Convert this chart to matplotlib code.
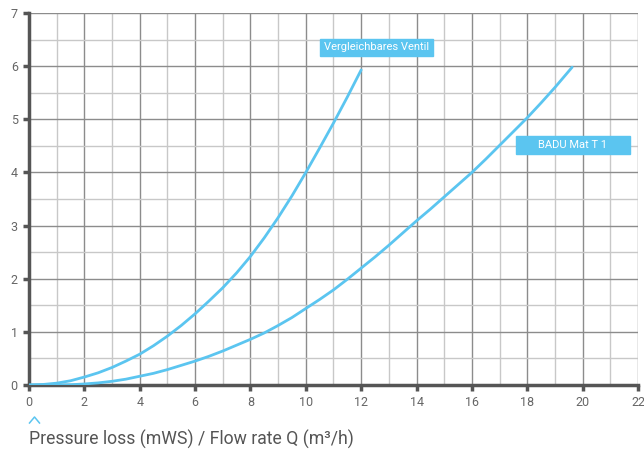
import matplotlib
matplotlib.use('Agg')
import matplotlib.pyplot as plt
from matplotlib.patches import Rectangle
from matplotlib.lines import Line2D
from matplotlib.ticker import MultipleLocator

# curves
q_ventil = [0, 0.5, 1, 1.5, 2, 2.5, 3, 3.5, 4, 4.5, 5, 5.5, 6, 6.5, 7, 7.5, 8,
            8.5, 9, 9.5, 10, 10.5, 11, 11.5, 12]
p_ventil = [0, 0.01, 0.035, 0.08, 0.15, 0.23, 0.33, 0.45, 0.58, 0.74, 0.92, 1.12,
            1.34, 1.58, 1.83, 2.11, 2.42, 2.77, 3.15, 3.56, 4.0, 4.46, 4.93, 5.42, 5.93]

q_badu = [0, 0.5, 1, 1.5, 2, 2.5, 3, 3.5, 4, 4.5, 5, 5.5, 6, 6.5, 7, 7.5, 8, 8.5,
          9, 9.5, 10, 10.5, 11, 11.5, 12, 12.5, 13, 13.5, 14, 14.5, 15, 15.5, 16,
          16.5, 17, 17.5, 18, 18.5, 19, 19.62]
p_badu = [0, 0, 0, 0.005, 0.02, 0.04, 0.07, 0.11, 0.165, 0.22, 0.29, 0.37, 0.45,
          0.54, 0.64, 0.75, 0.86, 0.98, 1.12, 1.27, 1.44, 1.61, 1.79, 1.99, 2.2,
          2.41, 2.63, 2.86, 3.09, 3.31, 3.54, 3.77, 4.0, 4.25, 4.51, 4.77, 5.03,
          5.31, 5.6, 5.98]

label_ventil = 'Vergleichbares Ventil'
label_badu = 'BADU Mat T 1'
title = 'Pressure loss (mWS) / Flow rate Q (m³/h)'

blue = '#5bc5f0'
plt.rcParams['font.family'] = ['Roboto', 'DejaVu Sans']

fig = plt.figure(figsize=(6.44, 4.49), dpi=100)
ax = fig.add_axes([0.045, 0.1425, 0.9457, 0.8285])

ax.plot(q_ventil, p_ventil, color=blue, lw=2, solid_capstyle='round', zorder=3)
ax.plot(q_badu, p_badu, color=blue, lw=2, solid_capstyle='round', zorder=3)

ax.set_xlim(0, 22)
ax.set_ylim(0, 7)
ax.xaxis.set_major_locator(MultipleLocator(2))
ax.xaxis.set_minor_locator(MultipleLocator(1))
ax.yaxis.set_major_locator(MultipleLocator(1))
ax.yaxis.set_minor_locator(MultipleLocator(0.5))
ax.grid(which='major', color='#8c8c8c', lw=1)
ax.grid(which='minor', color='#c8c8c8', lw=1)
ax.set_axisbelow(True)

for s in ['top', 'right']:
    ax.spines[s].set_visible(False)
for s in ['left', 'bottom']:
    ax.spines[s].set_color('#555555')
    ax.spines[s].set_linewidth(2.5)
ax.tick_params(which='major', length=4, width=2.5, color='#555555',
               labelcolor='#666666', labelsize=9, pad=4)
ax.tick_params(which='minor', length=0)

# label boxes
ax.add_patch(Rectangle((10.51, 6.19), 4.09, 0.33, color=blue, zorder=4, clip_on=False))
ax.text(12.55, 6.355, label_ventil, color='white', fontsize=8, ha='center', va='center', zorder=5)
ax.add_patch(Rectangle((17.59, 4.35), 4.12, 0.34, color=blue, zorder=4, clip_on=False))
ax.text(19.65, 4.52, label_badu, color='white', fontsize=8, ha='center', va='center', zorder=5)

# small chevron above the caption
fig.add_artist(Line2D([0.0458, 0.0536, 0.0613], [0.0579, 0.0713, 0.0579],
                      color=blue, lw=1.1, transform=fig.transFigure))
fig.text(0.045, 0.021, title, color='#555555', fontsize=12.7, ha='left', va='center')

fig.savefig('out.png', dpi=100)
